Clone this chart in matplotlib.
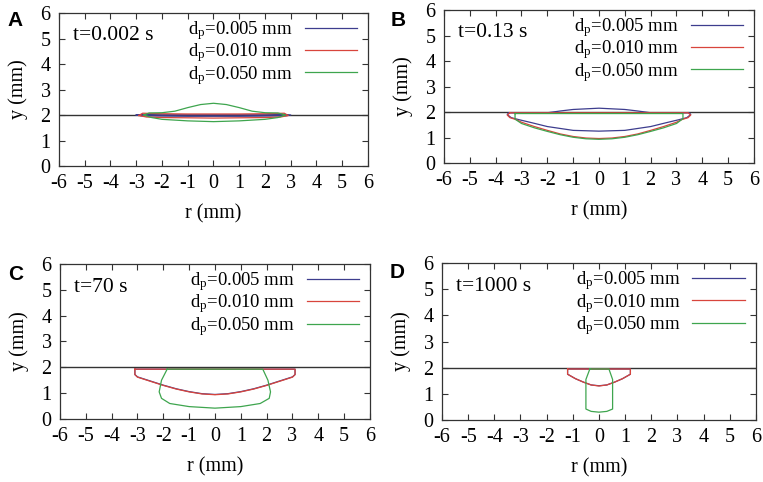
import matplotlib
matplotlib.use('Agg')
import matplotlib.pyplot as plt

plt.rcParams['font.family'] = ['Liberation Serif', 'DejaVu Serif']
plt.rcParams['mathtext.fontset'] = 'custom'
plt.rcParams['mathtext.rm'] = 'Liberation Serif'
plt.rcParams['mathtext.it'] = 'Liberation Serif:italic'
plt.rcParams['axes.unicode_minus'] = False

panel_letters = ['A', 'B', 'C', 'D']
time_labels = ['t=0.002 s', 't=0.13 s', 't=70 s', 't=1000 s']
particle_sizes = ['0.005', '0.010', '0.050']
series_colors = ['#3d3d8e', '#d8453c', '#3ea54e']
interface_y = 2.0
x_ticks = list(range(-6, 7))
y_ticks = list(range(0, 7))

# --- panel A, t=0.002 s ---
a_r_005 = [-3.0, -2.8, -2.0, -1.0, 0.0, 1.0, 2.0, 2.8, 3.0, 2.8, 2.0, 1.0, 0.0, -1.0, -2.0, -2.8, -3.0]
a_y_005 = [2.0, 2.02, 2.01, 2.01, 2.01, 2.01, 2.01, 2.02, 2.0, 1.97, 1.96, 1.95, 1.95, 1.95, 1.96, 1.97, 2.0]
a_r_010 = [-2.9, -2.75, -2.0, -1.0, 0.0, 1.0, 2.0, 2.75, 2.9, 2.6, 2.0, 1.0, 0.0, -1.0, -2.0, -2.6, -2.9]
a_y_010 = [1.98, 2.07, 2.05, 2.04, 2.04, 2.04, 2.05, 2.07, 1.98, 1.92, 1.9, 1.89, 1.88, 1.89, 1.9, 1.92, 1.98]
a_r_050 = [-2.7, -2.5, -2.0, -1.5, -1.0, -0.5, 0.0, 0.5, 1.0, 1.5, 2.0, 2.5, 2.8, 2.5, 2.0, 1.0, 0.0, -1.0, -2.0, -2.4, -2.7]
a_y_050 = [2.0, 2.08, 2.09, 2.15, 2.29, 2.41, 2.46, 2.41, 2.29, 2.15, 2.09, 2.08, 2.0, 1.9, 1.83, 1.77, 1.74, 1.77, 1.83, 1.9, 2.0]

# --- panel B, t=0.13 s ---
b_r_005 = [-3.5, -3.0, -2.0, -1.5, -1.0, 0.0, 1.0, 1.5, 2.0, 3.0, 3.5, 3.55, 3.4, 3.1, 2.6, 2.0, 1.0, 0.0,
           -1.0, -2.0, -2.6, -3.1, -3.4, -3.55, -3.5]
b_y_005 = [1.97, 1.96, 1.97, 2.04, 2.1, 2.15, 2.1, 2.04, 1.97, 1.96, 1.97, 1.9, 1.78, 1.7, 1.58, 1.43, 1.28, 1.25,
           1.28, 1.43, 1.58, 1.7, 1.78, 1.9, 1.97]
b_r_010 = [-3.45, 0.0, 3.45, 3.55, 3.45, 3.2, 3.0, 2.5, 2.0, 1.5, 1.0, 0.5, 0.0,
           -0.5, -1.0, -1.5, -2.0, -2.5, -3.0, -3.2, -3.45, -3.55, -3.45]
b_y_010 = [1.97, 1.97, 1.97, 1.88, 1.78, 1.7, 1.6, 1.43, 1.28, 1.14, 1.04, 0.98, 0.96,
           0.98, 1.04, 1.14, 1.28, 1.43, 1.6, 1.7, 1.78, 1.88, 1.97]
b_r_050 = [-3.25, 0.0, 3.25, 3.25, 3.0, 2.5, 2.0, 1.5, 1.0, 0.5, 0.0, -0.5, -1.0, -1.5, -2.0, -2.5, -3.0, -3.25, -3.25]
b_y_050 = [1.94, 1.94, 1.94, 1.74, 1.55, 1.38, 1.24, 1.11, 1.01, 0.95, 0.93, 0.95, 1.01, 1.11, 1.24, 1.38, 1.55, 1.72, 1.94]

# --- panel C, t=70 s ---
c_r_005 = [-3.1, 0.0, 3.1, 3.1, 3.0, 2.5, 2.0, 1.5, 1.0, 0.5, 0.0, -0.5, -1.0, -1.5, -2.0, -2.5, -3.0, -3.1, -3.1]
c_y_005 = [1.93, 1.93, 1.93, 1.72, 1.63, 1.47, 1.31, 1.17, 1.06, 0.98, 0.95, 0.98, 1.06, 1.17, 1.31, 1.47, 1.63, 1.72, 1.93]
c_r_010 = [-3.1, 0.0, 3.1, 3.1, 3.0, 2.5, 2.0, 1.5, 1.0, 0.5, 0.0, -0.5, -1.0, -1.5, -2.0, -2.5, -3.0, -3.1, -3.1]
c_y_010 = [1.93, 1.93, 1.93, 1.72, 1.62, 1.46, 1.3, 1.16, 1.05, 0.97, 0.94, 0.97, 1.05, 1.16, 1.3, 1.46, 1.62, 1.72, 1.93]
c_r_050 = [-1.85, 0.0, 1.85, 2.05, 2.15, 2.1, 1.75, 1.0, 0.0, -1.0, -1.75, -2.07, -2.16, -2.07, -1.85]
c_y_050 = [1.93, 1.93, 1.93, 1.5, 1.05, 0.8, 0.6, 0.48, 0.42, 0.48, 0.6, 0.8, 1.05, 1.5, 1.93]

# --- panel D, t=1000 s ---
d_r_005 = [-1.2, 0.0, 1.2, 1.2, 0.9, 0.6, 0.3, 0.0, -0.3, -0.6, -0.9, -1.2, -1.2]
d_y_005 = [1.95, 1.95, 1.95, 1.75, 1.58, 1.45, 1.34, 1.31, 1.34, 1.45, 1.58, 1.75, 1.95]
d_r_010 = [-1.2, 0.0, 1.2, 1.2, 0.9, 0.6, 0.3, 0.0, -0.3, -0.6, -0.9, -1.2, -1.2]
d_y_010 = [1.95, 1.95, 1.95, 1.75, 1.58, 1.45, 1.34, 1.3, 1.34, 1.45, 1.58, 1.75, 1.95]
d_r_050 = [-0.35, 0.0, 0.38, 0.52, 0.52, 0.3, 0.0, -0.3, -0.5, -0.5, -0.35]
d_y_050 = [1.95, 1.95, 1.95, 1.55, 0.42, 0.33, 0.3, 0.33, 0.42, 1.55, 1.95]

panel_r = [[a_r_005, a_r_010, a_r_050], [b_r_005, b_r_010, b_r_050],
           [c_r_005, c_r_010, c_r_050], [d_r_005, d_r_010, d_r_050]]
panel_y = [[a_y_005, a_y_010, a_y_050], [b_y_005, b_y_010, b_y_050],
           [c_y_005, c_y_010, c_y_050], [d_y_005, d_y_010, d_y_050]]

axes_rects = [
    [0.0773, 0.6556, 0.405, 0.3174],
    [0.5819, 0.6618, 0.4063, 0.3174],
    [0.0786, 0.1307, 0.4063, 0.3216],
    [0.5793, 0.1286, 0.4115, 0.3257],
]
letter_pos = [(0.010, 0.957), (0.512, 0.957), (0.010, 0.430), (0.510, 0.434)]

fig = plt.figure(figsize=(7.63, 4.82), dpi=100)

for k in range(4):
    ax = fig.add_axes(axes_rects[k])
    ax.axhline(interface_y, color='#333333', lw=1.0, zorder=1)
    for j in range(3):
        ax.plot(panel_r[k][j], panel_y[k][j], color=series_colors[j], lw=0.9,
                label=r'd$_\mathrm{p}$=' + particle_sizes[j] + ' mm', zorder=2 + j)
    ax.set_xlim(-6, 6)
    ax.set_ylim(0, 6)
    ax.set_xticks(x_ticks)
    ax.set_yticks(y_ticks)
    ax.tick_params(direction='in', top=True, right=True, length=4, width=0.8,
                   labelsize=14.5, pad=6, color='#333333')
    for s in ax.spines.values():
        s.set_color('#333333')
        s.set_linewidth(0.9)
    ax.set_xlabel('r (mm)', fontsize=14.5, labelpad=8)
    ax.set_ylabel('y (mm)', fontsize=14.5, labelpad=9)
    ax.text(0.045, 0.85, time_labels[k], transform=ax.transAxes, fontsize=15.5,
            ha='left', va='center')
    ax.legend(loc='upper right', bbox_to_anchor=(0.965, 0.96), frameon=False,
              markerfirst=False, fontsize=13.5, handlelength=2.8, handletextpad=0.6,
              labelspacing=-0.03, borderaxespad=0, borderpad=0)
    fig.text(letter_pos[k][0], letter_pos[k][1], panel_letters[k], fontsize=15,
             fontweight='bold', family='Liberation Sans', ha='left', va='center')

fig.savefig('out.png', dpi=100)
